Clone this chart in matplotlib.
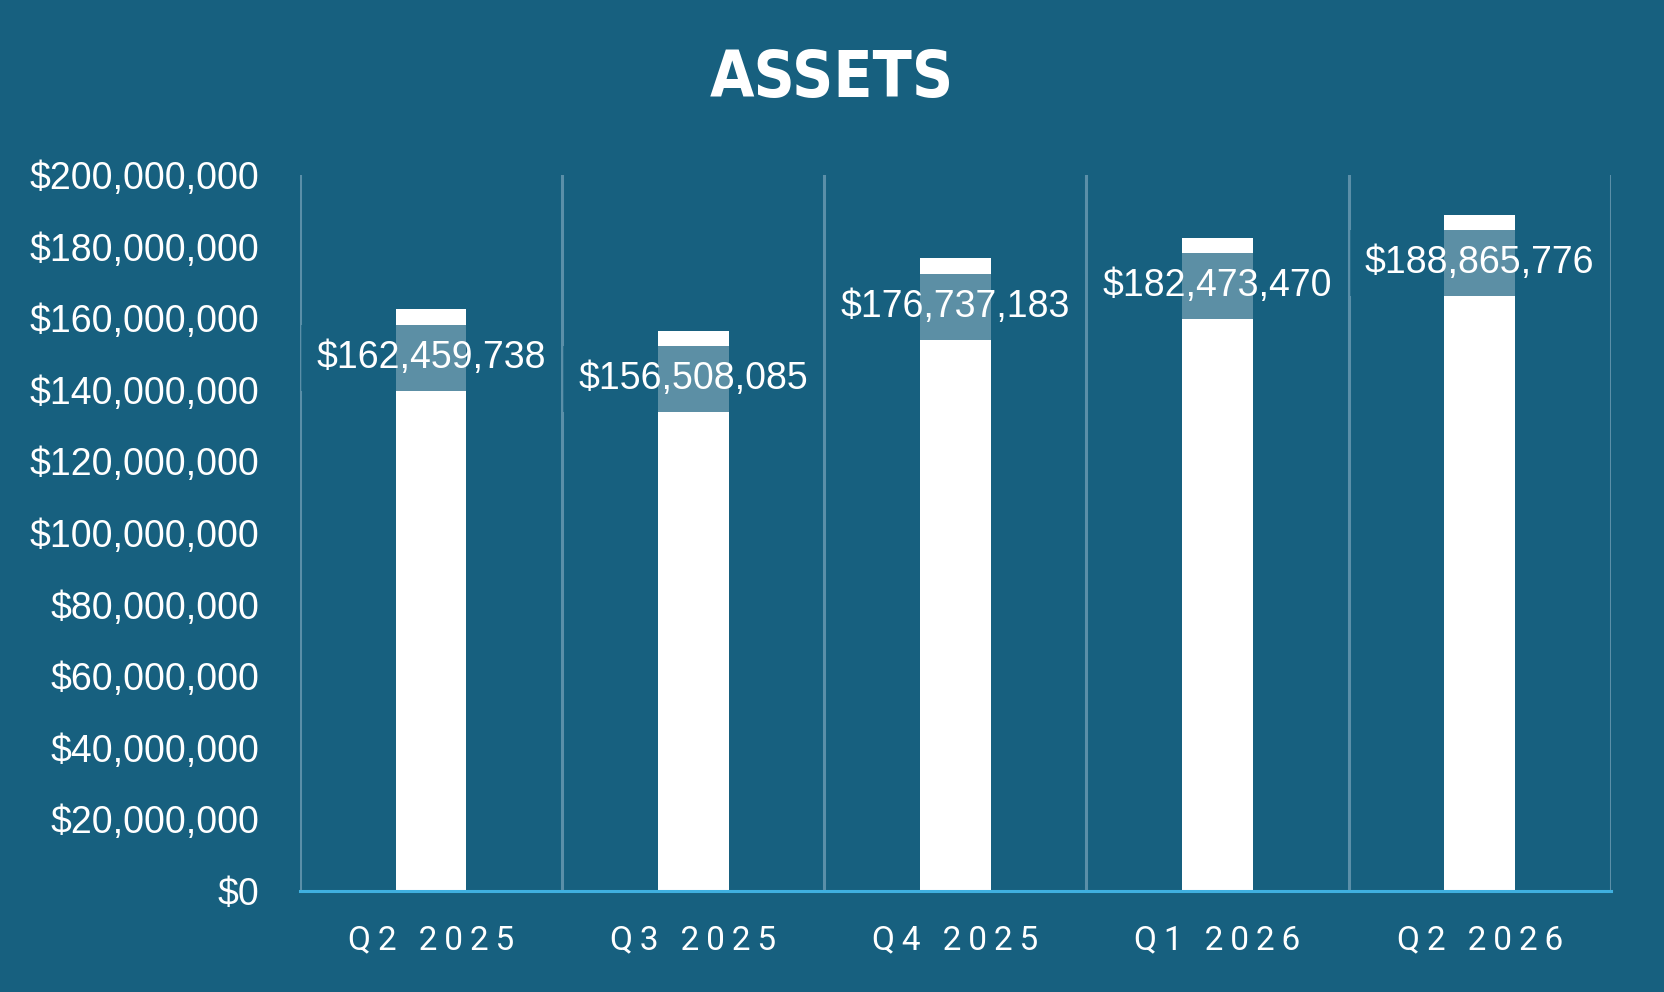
import matplotlib
matplotlib.use("Agg")
import matplotlib.pyplot as plt
from matplotlib.ticker import FuncFormatter

# --- data ---
quarters = ["Q2 2025", "Q3 2025", "Q4 2025", "Q1 2026", "Q2 2026"]
assets = [162459738, 156508085, 176737183, 182473470, 188865776]
y_ticks = list(range(0, 200000001, 20000000))

# --- style ---
bg = "#17607f"
grid_col = "#5b8fa8"
axis_col = "#3fb0e0"

plt.rcParams["font.family"] = ["Liberation Sans", "DejaVu Sans"]

fig = plt.figure(figsize=(16.64, 9.92), dpi=100, facecolor=bg)
ax = fig.add_axes([0.1803, 0.1018, 0.7877, 0.7218], facecolor=bg)

x = list(range(len(quarters)))
ax.bar(x, assets, width=0.27, color="white", zorder=2)

# data labels with translucent box, sitting just inside the top of each bar
for xi, v in zip(x, assets):
    ax.annotate(f"${v:,.0f}", xy=(xi, v), xytext=(0, -35),
                textcoords="offset points", ha="center", va="center",
                fontsize=27, color="white", zorder=3,
                bbox=dict(boxstyle="square,pad=0.4", fc=bg, ec="none", alpha=0.7))

ax.set_xlim(-0.5, len(quarters) - 0.5)
ax.set_ylim(0, 200000000)
ax.set_yticks(y_ticks)
ax.yaxis.set_major_formatter(FuncFormatter(lambda v, p: f"${v:,.0f}"))

# vertical separators between categories
for b in [i - 0.5 for i in range(len(quarters) + 1)]:
    ax.axvline(b, color=grid_col, lw=2.2, zorder=1)

ax.set_xticks(x)
ax.set_xticklabels(["\u2009".join(q) for q in quarters],
                   family=["Roboto", "DejaVu Sans"], fontsize=24, color="white")
ax.tick_params(axis="x", length=0, pad=24)
ax.tick_params(axis="y", length=0, pad=29, labelsize=27, labelcolor="white")

for s in ["top", "right", "left"]:
    ax.spines[s].set_visible(False)
ax.spines["bottom"].set_color(axis_col)
ax.spines["bottom"].set_linewidth(2.2)
ax.spines["bottom"].set_zorder(4)

fig.text(0.5, 0.92, "ASSETS", ha="center", va="center", color="white",
         fontsize=46, fontweight="bold", fontstretch="condensed",
         family=["DejaVu Sans"])

fig.savefig("out.png", dpi=100, facecolor=bg)
